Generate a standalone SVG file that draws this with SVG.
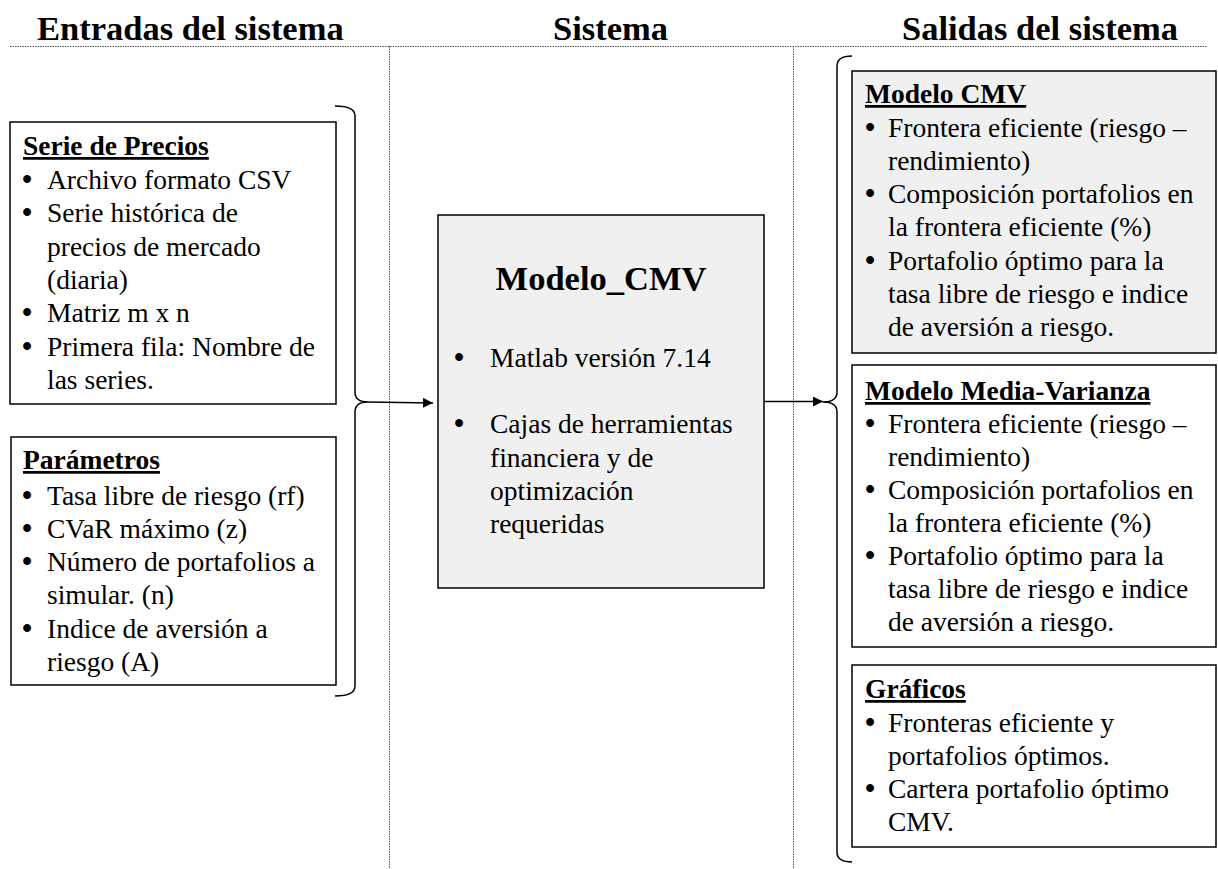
<svg xmlns="http://www.w3.org/2000/svg" width="1218" height="869" viewBox="0 0 1218 869">
  <defs>
    <style>
      .hdr { font-family: "Liberation Serif", "Times New Roman", serif; font-size: 34.5px; font-weight: bold; fill: #000; }
      .ttl { font-family: "Liberation Serif", "Times New Roman", serif; font-size: 27.5px; font-weight: bold; fill: #000; text-decoration: underline; }
      .txt { font-family: "Liberation Serif", "Times New Roman", serif; font-size: 27.5px; fill: #000; }
      .bul { font-family: "Liberation Serif", "Times New Roman", serif; font-size: 29px; font-weight: bold; fill: #000; }
      .box { fill: #ffffff; stroke: #000; stroke-width: 1.5; }
      .gbox { fill: #f0f0f0; stroke: #000; stroke-width: 1.5; }
      .sep { fill: none; stroke: #555; stroke-width: 1; stroke-dasharray: 1.5 1; }
      .brace { fill: none; stroke: #000; stroke-width: 1.5; }
      .conn { fill: none; stroke: #000; stroke-width: 1.5; }
    </style>
    <marker id="arrow" viewBox="0 0 10 10" refX="10" refY="5" markerWidth="10" markerHeight="10" markerUnits="userSpaceOnUse" orient="auto">
      <path d="M0,0 L10,5 L0,10 Z" fill="#000"/>
    </marker>
  </defs>

  <rect x="0" y="0" width="1218" height="869" fill="#ffffff"/>

  <!-- column headers -->
  <g id="headers">
    <text class="hdr" x="37" y="40">Entradas del sistema</text>
    <text class="hdr" x="553" y="40">Sistema</text>
    <text class="hdr" x="902" y="40">Salidas del sistema</text>
  </g>

  <!-- dotted column separators -->
  <g id="separators">
    <line class="sep" x1="10" y1="46.5" x2="1207" y2="46.5"/>
    <line class="sep" x1="389.5" y1="46" x2="389.5" y2="869"/>
    <line class="sep" x1="793.5" y1="46" x2="793.5" y2="869"/>
  </g>

  <!-- inputs -->
  <g id="serie-precios">
    <rect class="box" x="10" y="122" width="326" height="282"/>
    <text class="ttl" x="23" y="155">Serie de Precios</text>
    <text class="bul" x="22" y="189">•</text><text class="txt" x="47" y="189">Archivo formato CSV</text>
    <text class="bul" x="22" y="222">•</text><text class="txt" x="47" y="222">Serie histórica de</text>
    <text class="txt" x="47" y="256">precios de mercado</text>
    <text class="txt" x="47" y="289">(diaria)</text>
    <text class="bul" x="22" y="322">•</text><text class="txt" x="47" y="322">Matriz m x n</text>
    <text class="bul" x="22" y="356">•</text><text class="txt" x="47" y="356">Primera fila: Nombre de</text>
    <text class="txt" x="47" y="389">las series.</text>
  </g>

  <g id="parametros">
    <rect class="box" x="11" y="437" width="325" height="248"/>
    <text class="ttl" x="23" y="469">Parámetros</text>
    <text class="bul" x="22" y="505">•</text><text class="txt" x="47" y="505">Tasa libre de riesgo (rf)</text>
    <text class="bul" x="22" y="538">•</text><text class="txt" x="47" y="538">CVaR máximo (z)</text>
    <text class="bul" x="22" y="571">•</text><text class="txt" x="47" y="571">Número de portafolios a</text>
    <text class="txt" x="47" y="604">simular. (n)</text>
    <text class="bul" x="22" y="638">•</text><text class="txt" x="47" y="638">Indice de aversión a</text>
    <text class="txt" x="47" y="671">riesgo (A)</text>
  </g>

  <!-- system -->
  <g id="modelo-cmv-sistema">
    <rect class="gbox" x="438" y="215" width="326" height="373"/>
    <text class="hdr" x="601" y="290" text-anchor="middle">Modelo_CMV</text>
    <text class="bul" x="454" y="367">•</text><text class="txt" x="490" y="367">Matlab versión 7.14</text>
    <text class="bul" x="454" y="433">•</text><text class="txt" x="490" y="433">Cajas de herramientas</text>
    <text class="txt" x="490" y="467">financiera y de</text>
    <text class="txt" x="490" y="500">optimización</text>
    <text class="txt" x="490" y="533">requeridas</text>
  </g>

  <!-- outputs -->
  <g id="modelo-cmv">
    <rect class="gbox" x="852" y="71" width="364" height="282"/>
    <text class="ttl" x="865" y="103">Modelo CMV</text>
    <text class="bul" x="865" y="137">•</text><text class="txt" x="888" y="137">Frontera eficiente (riesgo –</text>
    <text class="txt" x="888" y="170">rendimiento)</text>
    <text class="bul" x="865" y="203">•</text><text class="txt" x="888" y="203">Composición portafolios en</text>
    <text class="txt" x="888" y="236">la frontera eficiente (%)</text>
    <text class="bul" x="865" y="270">•</text><text class="txt" x="888" y="270">Portafolio óptimo para la</text>
    <text class="txt" x="888" y="303">tasa libre de riesgo e indice</text>
    <text class="txt" x="888" y="336">de aversión a riesgo.</text>
  </g>

  <g id="modelo-media-varianza">
    <rect class="box" x="852" y="365" width="364" height="282"/>
    <text class="ttl" x="865" y="400">Modelo Media-Varianza</text>
    <text class="bul" x="865" y="433">•</text><text class="txt" x="888" y="433">Frontera eficiente (riesgo –</text>
    <text class="txt" x="888" y="466">rendimiento)</text>
    <text class="bul" x="865" y="499">•</text><text class="txt" x="888" y="499">Composición portafolios en</text>
    <text class="txt" x="888" y="532">la frontera eficiente (%)</text>
    <text class="bul" x="865" y="565">•</text><text class="txt" x="888" y="565">Portafolio óptimo para la</text>
    <text class="txt" x="888" y="598">tasa libre de riesgo e indice</text>
    <text class="txt" x="888" y="631">de aversión a riesgo.</text>
  </g>

  <g id="graficos">
    <rect class="box" x="852" y="665" width="364" height="182"/>
    <text class="ttl" x="865" y="698">Gráficos</text>
    <text class="bul" x="865" y="732">•</text><text class="txt" x="888" y="732">Fronteras eficiente y</text>
    <text class="txt" x="888" y="765">portafolios óptimos.</text>
    <text class="bul" x="865" y="798">•</text><text class="txt" x="888" y="798">Cartera portafolio óptimo</text>
    <text class="txt" x="888" y="831">CMV.</text>
  </g>

  <!-- braces and arrows -->
  <g id="connectors">
    <path class="brace" d="M335,106 Q355,106 355,116 L355,392 Q355,402 368,402 Q355,402 355,412 L355,686 Q355,696 335,696"/>
    <line class="conn" x1="368" y1="402" x2="433" y2="403" marker-end="url(#arrow)"/>
    <line class="conn" x1="764" y1="401.5" x2="823" y2="401.5" marker-end="url(#arrow)"/>
    <path class="brace" d="M852,56 Q837,56 837,66 L837,392 Q837,402 823,402 Q837,402 837,412 L837,852 Q837,862 852,862"/>
  </g>
</svg>
